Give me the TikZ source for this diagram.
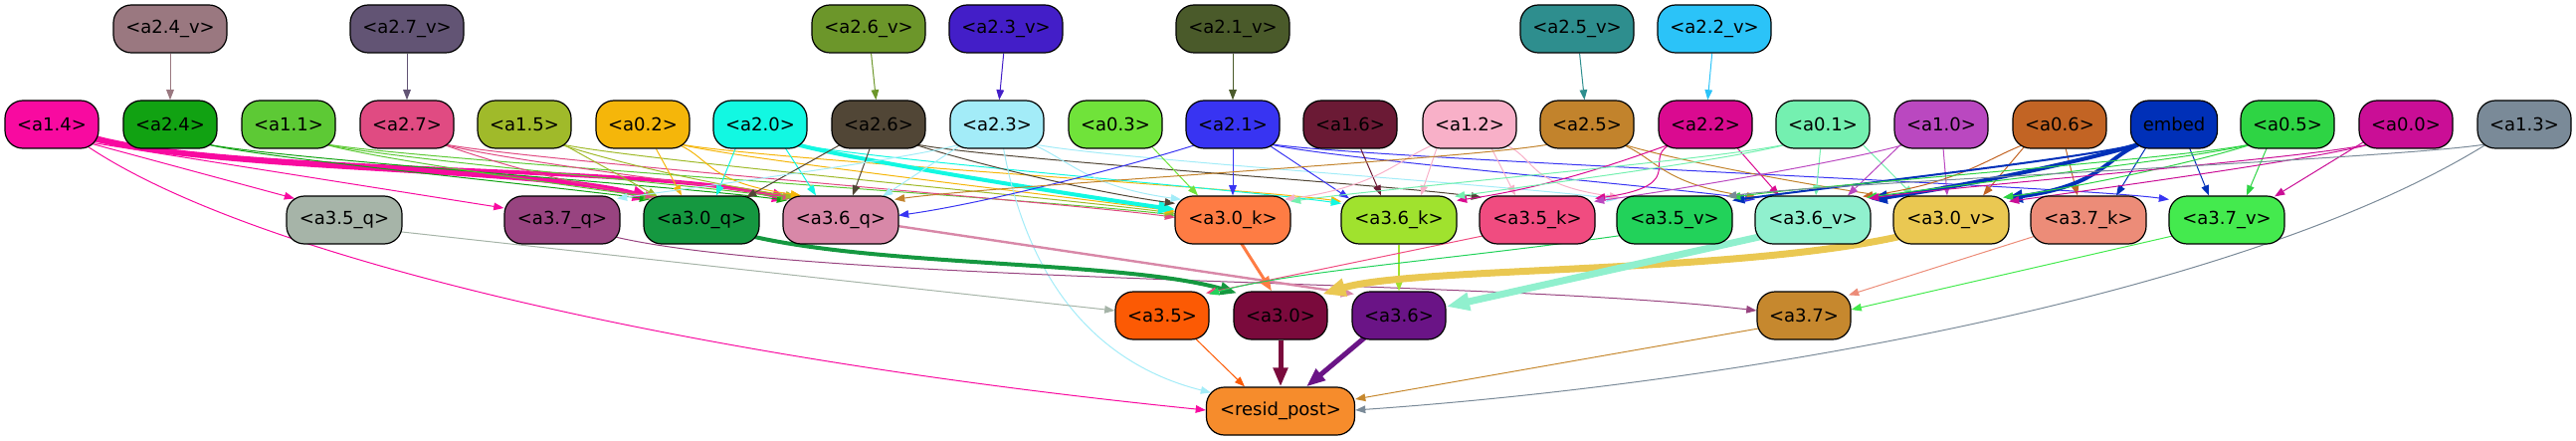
\documentclass[tikz,border=0pt]{standalone}
\usepackage{fontspec}
\setmainfont{DejaVu Sans}
\usetikzlibrary{arrows.meta,calc,backgrounds}
\definecolor{c24v}{HTML}{9A7880}\definecolor{c27v}{HTML}{625474}\definecolor{c26v}{HTML}{6C962A}
\definecolor{c23v}{HTML}{431EC8}\definecolor{c21v}{HTML}{4A5A2A}\definecolor{c25v}{HTML}{2E8E8E}
\definecolor{c22v}{HTML}{2BC3F8}
\definecolor{c14}{HTML}{F80AA0}\definecolor{c24}{HTML}{11A212}\definecolor{c11}{HTML}{5DC935}
\definecolor{c27}{HTML}{E04B82}\definecolor{c15}{HTML}{A0BA2A}\definecolor{c02}{HTML}{F5B60A}
\definecolor{c20}{HTML}{12F8E2}\definecolor{c26}{HTML}{514636}\definecolor{c23}{HTML}{A3ECF8}
\definecolor{c03}{HTML}{70E33A}\definecolor{c21}{HTML}{3834F2}\definecolor{c16}{HTML}{6B1A35}
\definecolor{c12}{HTML}{F8B0C8}\definecolor{c25}{HTML}{C2832C}\definecolor{c22}{HTML}{DA0A90}
\definecolor{c01}{HTML}{74F0B0}\definecolor{c10}{HTML}{BA48C0}\definecolor{c06}{HTML}{C26424}
\definecolor{cemb}{HTML}{0030B8}\definecolor{c05}{HTML}{2ED444}\definecolor{c00}{HTML}{CA0E96}
\definecolor{c13}{HTML}{7A8A98}
\definecolor{c35q}{HTML}{A6B4A8}\definecolor{c37q}{HTML}{984480}\definecolor{c30q}{HTML}{159840}
\definecolor{c36q}{HTML}{D888A8}\definecolor{c30k}{HTML}{FE7C44}\definecolor{c36k}{HTML}{A0E22E}
\definecolor{c35k}{HTML}{F04C80}\definecolor{c35v}{HTML}{22D25A}\definecolor{c36v}{HTML}{90F0CE}
\definecolor{c30v}{HTML}{EAC852}\definecolor{c37k}{HTML}{EC8C78}\definecolor{c37v}{HTML}{44EA4E}
\definecolor{c35}{HTML}{FC5A04}\definecolor{c30}{HTML}{7A0A3C}\definecolor{c36}{HTML}{6A1486}
\definecolor{c37}{HTML}{C6882E}\definecolor{cres}{HTML}{F68C2C}
\newcommand\er[5][]{\draw[E,#1] ($(#2)+(30,18)$) .. controls ($(#2)+(70,32)$) and ($(#3.north)+(#4,#5)+(-100,-14)$) .. ($(#3.north)+(#4,#5)$);}
\newcommand\el[5][]{\draw[E,#1] ($(#2)+(-30,18)$) .. controls ($(#2)+(-70,32)$) and ($(#3.north)+(#4,#5)+(100,-14)$) .. ($(#3.north)+(#4,#5)$);}
\newcommand\es[5][]{\draw[E,#1] (#2) -- ($(#3.north)+(#4,#5)$);}
\begin{document}
\begin{tikzpicture}[x=0.5pt,y=-0.5pt,
 nd/.style={draw=black,line width=0.6pt,rounded corners=9pt,minimum height=24pt,inner sep=0pt,font=\fontsize{9}{10}\selectfont,text=black},
 wa/.style={minimum width=47pt}, wq/.style={minimum width=58pt}, wv/.style={minimum width=57pt},
 E/.style={-{Triangle[length=4pt 2.2,width=3pt 1.6]},line width=0.5pt}]
\useasboundingbox (0,0) rectangle (2589,443);
% row 1
\node[nd,wv,fill=c24v] (a24v) at (171,29) {<a2.4\_v>};
\node[nd,wv,fill=c27v] (a27v) at (409,29) {<a2.7\_v>};
\node[nd,wv,fill=c26v] (a26v) at (873,29) {<a2.6\_v>};
\node[nd,wv,fill=c23v] (a23v) at (1011,29) {<a2.3\_v>};
\node[nd,wv,fill=c21v] (a21v) at (1239,29) {<a2.1\_v>};
\node[nd,wv,fill=c25v] (a25v) at (1585,29) {<a2.5\_v>};
\node[nd,wv,fill=c22v] (a22v) at (1723,29) {<a2.2\_v>};
% row 2
\node[nd,wa,fill=c14] (a14) at (52,125) {<a1.4>};
\node[nd,wa,fill=c24] (a24) at (171,125) {<a2.4>};
\node[nd,wa,fill=c11] (a11) at (290,125) {<a1.1>};
\node[nd,wa,fill=c27] (a27) at (409,125) {<a2.7>};
\node[nd,wa,fill=c15] (a15) at (527,125) {<a1.5>};
\node[nd,wa,fill=c02] (a02) at (646,125) {<a0.2>};
\node[nd,wa,fill=c20] (a20) at (764,125) {<a2.0>};
\node[nd,wa,fill=c26] (a26) at (883,125) {<a2.6>};
\node[nd,wa,fill=c23] (a23) at (1002,125) {<a2.3>};
\node[nd,wa,fill=c03] (a03) at (1121,125) {<a0.3>};
\node[nd,wa,fill=c21] (a21) at (1239,125) {<a2.1>};
\node[nd,wa,fill=c16] (a16) at (1357,125) {<a1.6>};
\node[nd,wa,fill=c12] (a12) at (1477,125) {<a1.2>};
\node[nd,wa,fill=c25] (a25) at (1595,125) {<a2.5>};
\node[nd,wa,fill=c22] (a22) at (1714,125) {<a2.2>};
\node[nd,wa,fill=c01] (a01) at (1832,125) {<a0.1>};
\node[nd,wa,fill=c10] (a10) at (1951,125) {<a1.0>};
\node[nd,wa,fill=c06] (a06) at (2070,125) {<a0.6>};
\node[nd,minimum width=43.5pt,fill=cemb] (emb) at (2185,125) {embed};
\node[nd,wa,fill=c05] (a05) at (2299,125) {<a0.5>};
\node[nd,wa,fill=c00] (a00) at (2418,125) {<a0.0>};
\node[nd,wa,fill=c13] (a13) at (2537,125) {<a1.3>};
% row 3
\node[nd,wq,fill=c35q] (a35q) at (346,221) {<a3.5\_q>};
\node[nd,wq,fill=c37q] (a37q) at (565,221) {<a3.7\_q>};
\node[nd,wq,fill=c30q] (a30q) at (705,221) {<a3.0\_q>};
\node[nd,wq,fill=c36q] (a36q) at (845,221) {<a3.6\_q>};
\node[nd,wq,fill=c30k] (a30k) at (1239,221) {<a3.0\_k>};
\node[nd,wq,fill=c36k] (a36k) at (1406,221) {<a3.6\_k>};
\node[nd,wq,fill=c35k] (a35k) at (1545,221) {<a3.5\_k>};
\node[nd,wq,fill=c35v] (a35v) at (1683,221) {<a3.5\_v>};
\node[nd,wq,fill=c36v] (a36v) at (1822,221) {<a3.6\_v>};
\node[nd,wq,fill=c30v] (a30v) at (1961,221) {<a3.0\_v>};
\node[nd,wq,fill=c37k] (a37k) at (2099,221) {<a3.7\_k>};
\node[nd,wq,fill=c37v] (a37v) at (2238,221) {<a3.7\_v>};
% row 4
\node[nd,wa,fill=c35] (a35) at (1168,317) {<a3.5>};
\node[nd,wa,fill=c30] (a30) at (1287,317) {<a3.0>};
\node[nd,wa,fill=c36] (a36) at (1406,317) {<a3.6>};
\node[nd,wa,fill=c37] (a37) at (1813,317) {<a3.7>};
% row 5
\node[nd,minimum width=74.5pt,fill=cres] (resid) at (1287,413) {<resid\_post>};

\begin{pgfonlayer}{background}
% row 1 -> row 2
\draw[E,c24v] (a24v) -- (a24);
\draw[E,c27v] (a27v) -- (a27);
\draw[E,c26v] (a26v) -- (a26);
\draw[E,c23v] (a23v) -- (a23);
\draw[E,c21v] (a21v) -- (a21);
\draw[E,c25v] (a25v) -- (a25);
\draw[E,c22v] (a22v) -- (a22);
% a1.4
\draw[E,c14,line width=2.5pt] ($(a14)+(40,14)$) .. controls (220,172) and (540,168) .. ($(a30q.north)+(-50,3)$);
\draw[E,c14,line width=2pt] ($(a14)+(40,12)$) .. controls (230,176) and (650,165) .. ($(a36q.north)+(-52,4)$);
\draw[E,c14] ($(a14)+(35,18)$) -- ($(a35q.north)+(-50,3)$);
\draw[E,c14] ($(a14)+(38,18)$) -- ($(a37q.west)+(0,-12)$);
\draw[E,c14] ($(a14)+(30,18)$) .. controls (250,260) and (700,360) .. ($(resid.west)+(0,-1)$);
% a2.4
\er[c24]{a24}{a30q}{-52}{4}
\er[c24]{a24}{a36q}{-54}{5}
% a1.1
\er[c11]{a11}{a30q}{-48}{2}
\er[c11]{a11}{a36q}{-50}{3}
\er[c11]{a11}{a30k}{-58}{20}
% a2.7
\er[c27]{a27}{a30q}{-46}{1}
\er[c27]{a27}{a36q}{-48}{2}
\er[c27]{a27}{a30k}{-58}{22}
% a1.5
\es[c15]{$(a15)+(30,15)$}{a30q}{-44}{1}
\er[c15]{a15}{a36q}{-45}{1}
\er[c15]{a15}{a30k}{-58}{18}
% a0.2
\es[c02]{a02}{a30q}{-20}{0}
\er[c02]{a02}{a36q}{-40}{0}
\er[c02]{a02}{a30k}{-58}{16}
\er[c02]{a02}{a36k}{-58}{6}
% a2.0
\es[c20]{$(a20)+(-15,0)$}{a30q}{15}{0}
\es[c20]{$(a20)+(10,0)$}{a36q}{-25}{0}
\er[c20,line width=2pt]{a20}{a30k}{-58}{14}
\er[c20]{a20}{a36k}{-58}{8}
% a2.6
\es[c26]{$(a26)+(-20,10)$}{a30q}{45}{2}
\es[c26]{a26}{a36q}{12}{0}
\er[c26]{a26}{a30k}{-58}{8}
\er[c26]{a26}{a35k}{-56}{2}
% a2.3
\es[c23]{$(a23)+(-20,10)$}{a36q}{42}{1}
\el[c23]{a23}{a37q}{55}{3}
\er[c23]{a23}{a30k}{-52}{4}
\er[c23]{a23}{a35v}{-58}{4}
\draw[E,c23] ($(a23)+(5,15)$) .. controls (1030,280) and (1100,365) .. ($(resid.north)+(-70,6)$);
% a0.3
\es[c03]{$(a03)+(25,10)$}{a30k}{-35}{0}
% a2.1
\es[c21]{a21}{a30k}{0}{0}
\el[c21]{a21}{a36q}{58}{20}
\es[c21]{$(a21)+(20,10)$}{a36k}{-50}{3}
\er[c21]{a21}{a36v}{-58}{4}
\er[c21]{a21}{a37v}{-58}{4}
% a1.6
\es[c16]{a16}{a36k}{-18}{0}
% a1.2
\el[c12]{a12}{a30k}{52}{4}
\es[c12]{$(a12)+(-25,0)$}{a36k}{22}{0}
\es[c12]{$(a12)+(10,0)$}{a35k}{-22}{0}
\er[c12]{a12}{a35v}{-55}{2}
% a2.5
\el[c25]{a25}{a36q}{54}{4}
\er[c25]{a25}{a36v}{-56}{2}
\er[c25]{a25}{a30v}{-56}{2}
% a2.2
\el[c22]{a22}{a36k}{58}{5}
\el[c22]{a22}{a35k}{58}{3}
\es[c22]{$(a22)+(20,10)$}{a36v}{-34}{0}
% a0.1
\el[c01]{a01}{a30k}{58}{6}
\el[c01]{a01}{a36k}{56}{1}
\es[c01]{a01}{a36v}{3}{0}
\es[c01]{$(a01)+(30,10)$}{a30v}{-38}{0}
% a1.0
\el[c10]{a10}{a35k}{57}{6}
\es[c10]{$(a10)+(-30,10)$}{a36v}{35}{0}
\es[c10]{a10}{a30v}{-4}{0}
% a0.6
\el[c06]{a06}{a36v}{50}{1}
\es[c06]{$(a06)+(-25,10)$}{a30v}{32}{0}
\es[c06]{a06}{a37k}{-11}{0}
% embed
\el[cemb,line width=1pt]{emb}{a35v}{58}{5}
\el[cemb,line width=2pt]{emb}{a36v}{58}{4}
\el[cemb,line width=2pt]{emb}{a30v}{55}{3}
\es[cemb]{$(emb)+(-20,10)$}{a37k}{28}{0}
\es[cemb]{$(emb)+(10,10)$}{a37v}{-18}{0}
% a0.5
\el[c05]{a05}{a35v}{56}{2}
\el[c05]{a05}{a36v}{54}{2}
\el[c05]{a05}{a30v}{52}{2}
\es[c05]{$(a05)+(-15,10)$}{a37v}{20}{0}
% a0.0
\el[c00]{a00}{a36v}{56}{3}
\el[c00]{a00}{a30v}{58}{6}
\es[c00]{$(a00)+(-30,10)$}{a37v}{48}{1}
% a1.3
\el[c13]{a13}{a35v}{52}{1}
\draw[E,c13] ($(a13)+(-35,18)$) .. controls (2260,295) and (1750,385) .. ($(resid.east)+(0,-1)$);
% row 3 -> row 4
\draw[E,c35q] ($(a35q)+(40,10)$) -- ($(a35.west)+(0,-5)$);
\draw[E,c37q] ($(a37q)+(45,15)$) .. controls (800,285) and (1500,280) .. ($(a37.west)+(0,-5)$);
\draw[E,c30q,line width=2pt] ($(a30q)+(45,15)$) .. controls (880,268) and (1130,262) .. ($(a30.north)+(-44,2)$);
\draw[E,c36q,line width=1.2pt] ($(a36q)+(50,5)$) -- ($(a36.north)+(-45,3)$);
\draw[E,c30k,line width=1.5pt] ($(a30k)+(0,10)$) -- ($(a30.north)+(-9,0)$);
\draw[E,c36k,line width=1pt] (a36k) -- (a36);
\draw[E,c35k] ($(a35k)+(-50,15)$) -- ($(a35.north)+(44,2)$);
\draw[E,c35v] ($(a35v)+(-50,15)$) .. controls (1450,262) and (1300,272) .. ($(a35.north)+(47,3)$);
\draw[E,c30v,line width=3.5pt] ($(a30v)+(-45,15)$) .. controls (1750,275) and (1420,268) .. ($(a30.north)+(42,3)$);
\draw[E,c36v,line width=3.5pt] ($(a36v)+(-45,15)$) -- ($(a36.east)+(0,-9)$);
\draw[E,c37k] ($(a37k)+(-50,15)$) -- ($(a37.north)+(45,4)$);
\draw[E,c37v] ($(a37v)+(-50,15)$) -- ($(a37.east)+(0,-6)$);
% row 4 -> resid
\draw[E,c35] ($(a35)+(20,10)$) -- ($(resid.north)+(-36,0)$);
\draw[E,c30,line width=2.5pt] (a30) -- (resid);
\draw[E,c36,line width=2.5pt] ($(a36)+(-20,10)$) -- ($(resid.north)+(26,0)$);
\draw[E,c37] ($(a37)+(-40,12)$) -- ($(resid.east)+(0,-12)$);
\end{pgfonlayer}
\end{tikzpicture}
\end{document}
